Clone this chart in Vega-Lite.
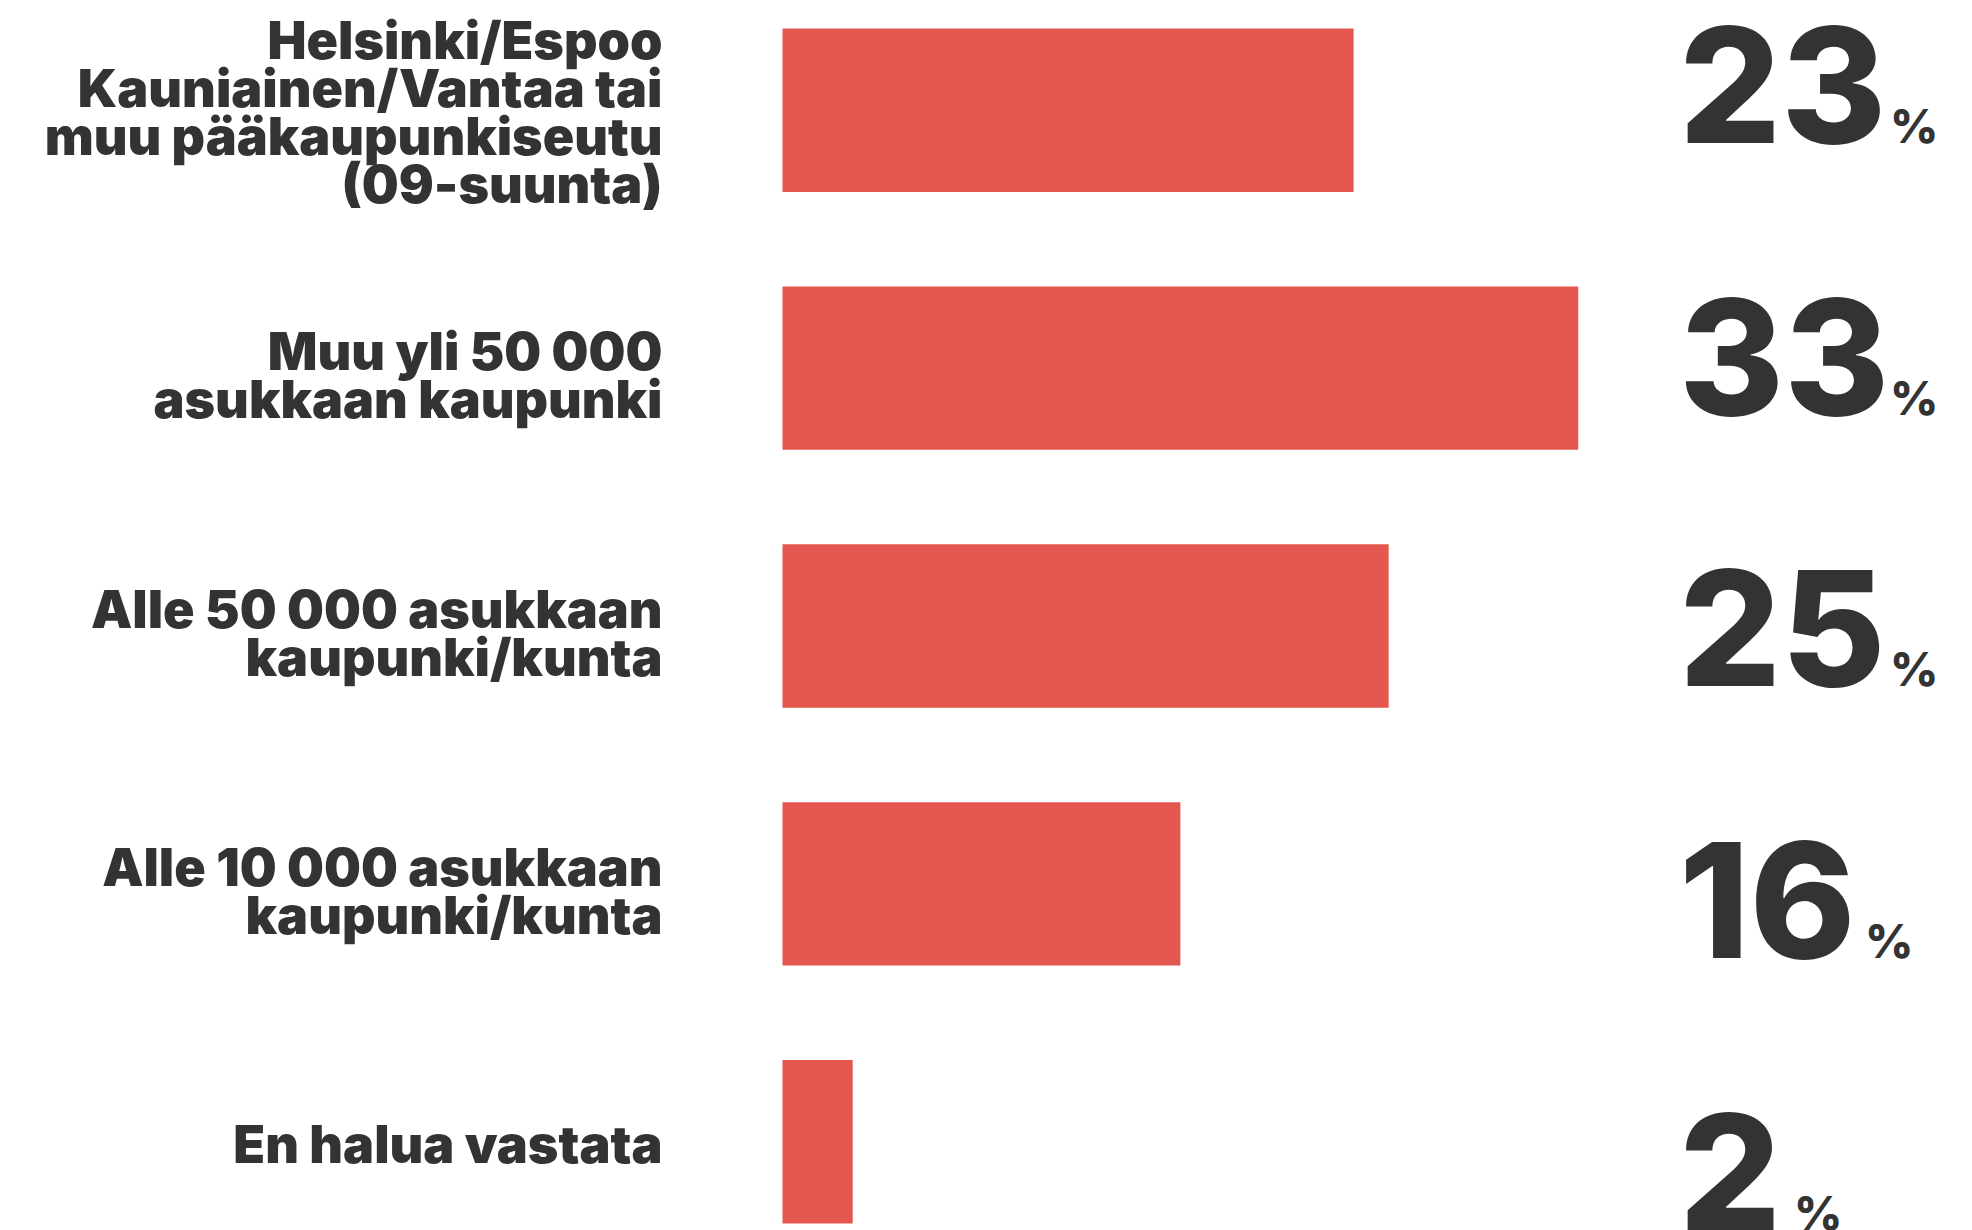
{
  "$schema": "https://vega.github.io/schema/vega-lite/v6.json",
  "width": 1100,
  "height": 1195,
  "autosize": {"type": "none"},
  "padding": {"left": 782.5, "top": 28.5, "right": 89.5, "bottom": 6.5},
  "background": "#ffffff",
  "config": {"view": {"stroke": null}},
  "data": {
    "values": [
      {"category": "Helsinki/Espoo\nKauniainen/Vantaa tai\nmuu pääkaupunkiseutu\n(09-suunta)", "pct": 23.4},
      {"category": "Muu yli 50 000\nasukkaan kaupunki", "pct": 33.0},
      {"category": "Alle 50 000 asukkaan\nkaupunki/kunta", "pct": 24.9},
      {"category": "Alle 10 000 asukkaan\nkaupunki/kunta", "pct": 16.0},
      {"category": "En halua vastata", "pct": 2.0}
    ]
  },
  "resolve": {"scale": {"y": "independent"}, "axis": {"y": "independent"}},
  "layer": [
    {
      "mark": {"type": "bar", "color": "#E4574F"},
      "encoding": {
        "y": {
          "field": "category", "type": "nominal", "sort": null,
          "scale": {"paddingInner": 0.366, "paddingOuter": 0},
          "axis": {
            "title": null, "domain": false, "ticks": false, "tickSize": 0, "grid": false,
            "labelPadding": 120.5, "labelFont": "Inter", "labelFontSize": 52, "labelFontWeight": 900,
            "labelColor": "#333333", "labelLineHeight": 48, "labelLimit": 0,
            "labelAlign": "right", "labelBaseline": "middle",
            "labelExpr": "split(datum.label, '\\n')",
            "labelOffset": {
              "condition": [
                {"test": "length(split(datum.label, '\\n')) >= 4", "value": -67},
                {"test": "length(split(datum.label, '\\n')) == 2", "value": -14}
              ],
              "value": 5
            }
          }
        },
        "x": {"field": "pct", "type": "quantitative", "scale": {"domain": [-1, 46], "nice": false, "zero": false}, "axis": null},
        "x2": {"datum": -1}
      }
    },
    {
      "encoding": {
        "y": {"field": "category", "type": "nominal", "sort": null, "scale": {"type": "point", "padding": 0.199}, "axis": null}
      },
      "layer": [
        {
          "mark": {"type": "text", "font": "Inter", "fontSize": 160, "fontWeight": 800, "color": "#333333", "align": "left", "baseline": "alphabetic", "dy": 60.4},
          "encoding": {
            "x": {"datum": 37.31, "type": "quantitative"},
            "text": {"field": "pct", "type": "quantitative", "format": ".0f"}
          }
        },
        {
          "transform": [{"filter": "datum.pct >= 19.5"}],
          "mark": {"type": "text", "font": "Inter", "fontSize": 47, "fontWeight": 800, "color": "#333333", "align": "left", "baseline": "alphabetic", "dy": 60.4, "dx": 211},
          "encoding": {
            "x": {"datum": 37.31, "type": "quantitative"},
            "text": {"value": "%"}
          }
        },
        {
          "transform": [{"filter": "datum.pct >= 9.5 && datum.pct < 19.5"}],
          "mark": {"type": "text", "font": "Inter", "fontSize": 47, "fontWeight": 800, "color": "#333333", "align": "left", "baseline": "alphabetic", "dy": 60.4, "dx": 186},
          "encoding": {
            "x": {"datum": 37.31, "type": "quantitative"},
            "text": {"value": "%"}
          }
        },
        {
          "transform": [{"filter": "datum.pct < 9.5"}],
          "mark": {"type": "text", "font": "Inter", "fontSize": 47, "fontWeight": 800, "color": "#333333", "align": "left", "baseline": "alphabetic", "dy": 60.4, "dx": 115},
          "encoding": {
            "x": {"datum": 37.31, "type": "quantitative"},
            "text": {"value": "%"}
          }
        }
      ]
    }
  ]
}
